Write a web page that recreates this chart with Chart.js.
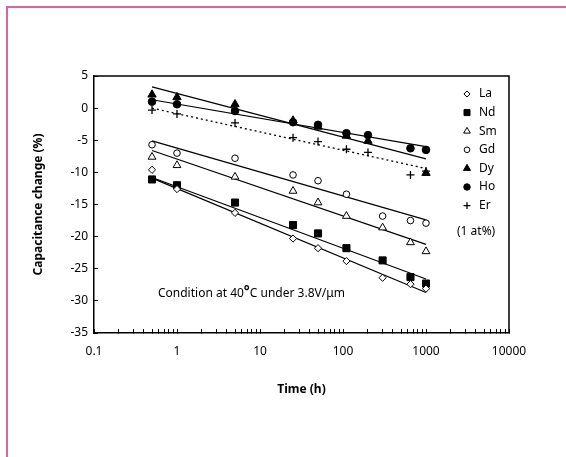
<!DOCTYPE html>
<html>
<head>
<meta charset="utf-8">
<script src="https://cdn.jsdelivr.net/npm/chart.js@4.4.1/dist/chart.umd.min.js"></script>
<style>
  html, body { margin: 0; padding: 0; background: #fff; overflow: hidden; }
  #wrap { position: relative; width: 566px; height: 457px; overflow: hidden; }
  .pink { position: absolute; background: #d8689a; }
  #edgeTop { left: 6px; top: 6px; width: 560px; height: 2px; }
  #edgeLeft { left: 6px; top: 6px; width: 2px; height: 451px; }
  canvas { position: absolute; left: 0; top: 0; }
</style>
</head>
<body>
<div id="wrap">
  <div class="pink" id="edgeTop"></div>
  <div class="pink" id="edgeLeft"></div>
  <canvas id="capChart" width="566" height="457"></canvas>
</div>
<script>
// measurement times (h)
const timesA = [0.5, 1, 5, 25, 50, 110, 300, 650, 1000];   // La, Nd, Sm, Gd
const timesB = [0.5, 1, 5, 25, 50, 110, 200, 650, 1000];   // Dy, Ho, Er
const fitTimes = [0.5, 1000];
const timeTicks = [0.1, 1, 10, 100, 1000, 10000];

// capacitance change (%)
const laValues = [-9.6, -12.6, -16.3, -20.3, -21.8, -23.8, -26.4, -27.4, -28.1];
const ndValues = [-11.1, -12.0, -14.7, -18.2, -19.5, -21.8, -23.7, -26.3, -27.3];
const smValues = [-7.6, -8.9, -10.7, -12.9, -14.7, -16.8, -18.6, -20.9, -22.3];
const gdValues = [-5.7, -7.0, -7.8, -10.4, -11.3, -13.4, -16.8, -17.5, -17.9];
const dyValues = [2.1, 1.7, 0.6, -1.95, -2.9, -4.3, -5.1, null, -10.1];
const hoValues = [1.0, 0.6, -0.45, -2.2, -2.6, -3.9, -4.2, -6.25, -6.5];
const erValues = [-0.3, -0.9, -2.3, -4.6, -5.2, -6.4, -6.9, -10.4, -9.8];

// fitted lines, value at 0.5 h and 1000 h
const laFit = [-10.9, -28.7];
const ndFit = [-10.8, -26.6];
const smFit = [-6.6, -21.2];
const gdFit = [-5.1, -17.4];
const dyFit = [3.3, -7.9];
const hoFit = [1.3, -6.0];
const erFit = [0.0, -9.4];

Chart.defaults.font.family = '"Noto Sans", sans-serif';
Chart.defaults.font.size = 12;
Chart.defaults.color = '#000';

function pts(xs, ys) {
  return xs.map((x, i) => ({x: x, y: ys[i]})).filter(p => p.y !== null);
}

function markerSet(label, xs, ys, style, radius, filled) {
  return {
    label: label,
    data: pts(xs, ys),
    showLine: false,
    pointStyle: style,
    pointRadius: radius,
    pointHoverRadius: radius,
    pointBackgroundColor: filled ? '#000' : '#fff',
    pointBorderColor: '#000',
    pointBorderWidth: style === 'cross' ? 1.3 : 1,
    isMarker: true
  };
}

function fitSet(ys, dashed) {
  return {
    label: '',
    data: pts(fitTimes, ys),
    showLine: true,
    pointRadius: 0,
    borderColor: '#000',
    borderWidth: dashed ? 1.3 : 1.2,
    borderDash: dashed ? [2, 3] : []
  };
}

// legend drawn inside the plot box, right side
const sideLegend = {
  id: 'sideLegend',
  afterDraw(chart) {
    const {ctx, chartArea} = chart;
    const mx = chartArea.right - 42;
    const tx = chartArea.right - 30;
    let y = chartArea.top + 18;
    ctx.save();
    ctx.font = '12px "Noto Sans", sans-serif';
    ctx.textBaseline = 'middle';
    chart.data.datasets.forEach(ds => {
      if (!ds.isMarker) return;
      ctx.fillStyle = ds.pointBackgroundColor;
      ctx.strokeStyle = '#000';
      ctx.lineWidth = ds.pointBorderWidth;
      Chart.helpers.drawPoint(ctx, {
        pointStyle: ds.pointStyle,
        radius: ds.pointRadius * 0.85,
        rotation: 0,
        borderWidth: ds.pointBorderWidth
      }, mx, y);
      ctx.fillStyle = '#000';
      ctx.fillText(ds.label, tx, y);
      y += 18.6;
    });
    ctx.fillText('(1 at%)', chartArea.right - 52, chartArea.top + 156);
    ctx.restore();
  }
};

// test condition note
const conditionNote = {
  id: 'conditionNote',
  afterDraw(chart) {
    const {ctx, scales} = chart;
    let x = scales.x.getPixelForValue(0.59);
    const y = scales.y.getPixelForValue(-29.4);
    ctx.save();
    ctx.fillStyle = '#000';
    ctx.textBaseline = 'alphabetic';
    ctx.font = '12px "Noto Sans", sans-serif';
    ctx.fillText('Condition at 40', x, y);
    x += ctx.measureText('Condition at 40').width;
    ctx.font = 'bold 14px "Noto Sans", sans-serif';
    ctx.fillText('°', x, y - 1);
    x += ctx.measureText('°').width;
    ctx.font = '12px "Noto Sans", sans-serif';
    ctx.fillText('C under 3.8V/μm', x, y);
    ctx.restore();
  }
};

// top and right edges of the plot box
const plotFrame = {
  id: 'plotFrame',
  afterDraw(chart) {
    const {ctx, chartArea} = chart;
    ctx.save();
    ctx.strokeStyle = '#000';
    ctx.lineWidth = 1.5;
    ctx.beginPath();
    ctx.moveTo(chartArea.left, chartArea.top);
    ctx.lineTo(chartArea.right, chartArea.top);
    ctx.lineTo(chartArea.right, chartArea.bottom);
    ctx.stroke();
    ctx.restore();
  }
};

const ctx = document.getElementById('capChart').getContext('2d');
new Chart(ctx, {
  type: 'scatter',
  data: {
    datasets: [
      markerSet('La', timesA, laValues, 'rectRot', 3.6, false),
      markerSet('Nd', timesA, ndValues, 'rect', 5, true),
      markerSet('Sm', timesA, smValues, 'triangle', 4.5, false),
      markerSet('Gd', timesA, gdValues, 'circle', 3.3, false),
      markerSet('Dy', timesB, dyValues, 'triangle', 4.8, true),
      markerSet('Ho', timesB, hoValues, 'circle', 3.8, true),
      markerSet('Er', timesB, erValues, 'cross', 4, false),
      fitSet(laFit), fitSet(ndFit), fitSet(smFit), fitSet(gdFit),
      fitSet(dyFit), fitSet(hoFit), fitSet(erFit, true)
    ]
  },
  options: {
    responsive: false,
    animation: false,
    devicePixelRatio: 1,
    layout: { padding: { top: 76, right: 57, bottom: 44, left: 0 } },
    plugins: {
      legend: { display: false },
      tooltip: { enabled: false }
    },
    scales: {
      x: {
        type: 'logarithmic',
        min: 0.1,
        max: 10000,
        afterBuildTicks(scale) {
          // keep only 1..9 x 10^n marks
          scale.ticks = scale.ticks.filter(t => {
            const s = t.value / Math.pow(10, Math.floor(Math.log10(t.value) + 1e-9));
            return Math.abs(s - Math.round(s)) < 1e-6;
          });
        },
        ticks: {
          autoSkip: false,
          maxRotation: 0,
          padding: 15,
          callback(value) {
            const hit = timeTicks.find(t => Math.abs(t - value) < t * 1e-6);
            return hit !== undefined ? String(hit) : '';
          }
        },
        grid: { drawOnChartArea: false, drawTicks: true, tickLength: -4, tickColor: '#000', tickWidth: 1 },
        border: { display: true, color: '#000', width: 1.5 },
        title: {
          display: true,
          text: 'Time (h)',
          font: { size: 12, weight: 'bold' },
          padding: { top: 0, bottom: 16 }
        },
        afterFit(scale) { scale.height = 80; }
      },
      y: {
        min: -35,
        max: 5,
        ticks: { stepSize: 5, padding: 10 },
        grid: { drawOnChartArea: false, drawTicks: true, tickLength: -4, tickColor: '#000', tickWidth: 1 },
        border: { display: true, color: '#000', width: 1.5 },
        title: {
          display: true,
          text: 'Capacitance change (%)',
          font: { size: 12, weight: 'bold' },
          padding: { top: 31, bottom: 0 }
        },
        afterFit(scale) { scale.width = 94; }
      }
    }
  },
  plugins: [sideLegend, conditionNote, plotFrame]
});
</script>
</body>
</html>
